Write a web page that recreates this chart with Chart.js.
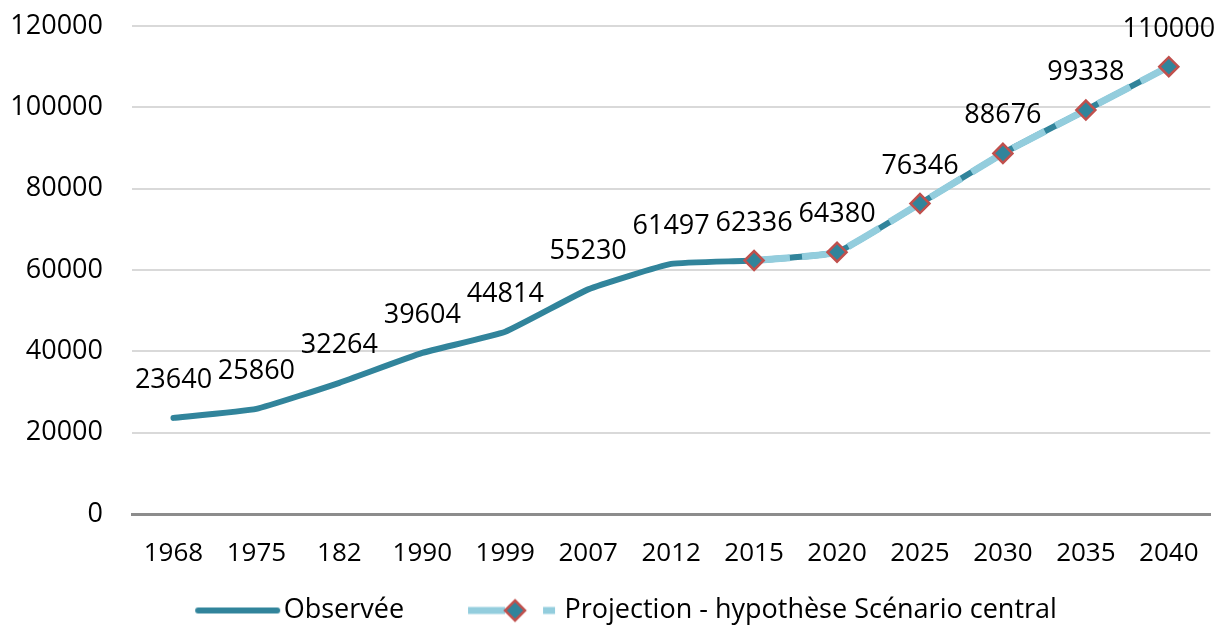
<!DOCTYPE html>
<html lang="fr">
<head>
<meta charset="utf-8">
<title>Population observée et projection</title>
<script src="https://cdn.jsdelivr.net/npm/chart.js@4/dist/chart.umd.min.js"></script>
<style>
    html, body { margin: 0; padding: 0; background: #fff; }
    #wrap { width: 1223px; height: 626px; }
</style>
</head>
<body>
<div id="wrap"><canvas id="chart" width="1223" height="626"></canvas></div>
<script>
// années (le "182" est tel quel sur l'original)
const annees = ['1968', '1975', '182', '1990', '1999', '2007', '2012', '2015', '2020', '2025', '2030', '2035', '2040'];
// série observée (continue sous la projection)
const observee = [23640, 25860, 32264, 39604, 44814, 55230, 61497, 62336, 64380, 76346, 88676, 99338, 110000];
// projection - scénario central, à partir de 2015
const projection = [null, null, null, null, null, null, null, 62336, 64380, 76346, 88676, 99338, 110000];
const yMin = 0;
const yMax = 120000;
const yPas = 20000;

const FONT = "'Open Sans', 'DejaVu Sans', sans-serif";
const TEAL = '#31849B';
const BLEU_CLAIR = '#93CDDD';
const ROUGE = '#C0504D';

document.addEventListener('DOMContentLoaded', () => {
    Chart.defaults.font.family = FONT;
    Chart.defaults.color = '#000';
    buildChart();
});

// petit dessin pour la légende (trait + losange), 160 x 30
function legendSample(kind) {
    const c = document.createElement('canvas');
    c.width = 160;
    c.height = 30;
    const ctx = c.getContext('2d');
    if (kind === 'obs') {
        ctx.strokeStyle = TEAL;
        ctx.lineWidth = 6;
        ctx.lineCap = 'round';
        ctx.beginPath();
        ctx.moveTo(64, 15);
        ctx.lineTo(143, 15);
        ctx.stroke();
    } else {
        ctx.strokeStyle = BLEU_CLAIR;
        ctx.lineWidth = 7;
        ctx.beginPath();
        ctx.moveTo(53, 15);
        ctx.lineTo(90, 15);
        ctx.moveTo(128, 15);
        ctx.lineTo(140, 15);
        ctx.stroke();
        // losange
        ctx.beginPath();
        ctx.moveTo(100, 5);
        ctx.lineTo(110, 15);
        ctx.lineTo(100, 25);
        ctx.lineTo(90, 15);
        ctx.closePath();
        ctx.fillStyle = TEAL;
        ctx.fill();
        ctx.lineWidth = 2.5;
        ctx.strokeStyle = ROUGE;
        ctx.stroke();
    }
    return c;
}

// étiquettes de valeurs au-dessus des points
const valueLabels = {
    id: 'valueLabels',
    afterDatasetsDraw(chart) {
        const meta = chart.getDatasetMeta(0);
        const ctx = chart.ctx;
        ctx.save();
        ctx.font = '27px ' + FONT;
        ctx.fillStyle = '#000';
        ctx.textAlign = 'center';
        ctx.textBaseline = 'alphabetic';
        meta.data.forEach((pt, i) => {
            ctx.fillText(String(observee[i]), pt.x, pt.y - 30);
        });
        ctx.restore();
    }
};

function buildChart() {
    const ctx = document.getElementById('chart').getContext('2d');
    new Chart(ctx, {
        type: 'line',
        data: {
            labels: annees,
            datasets: [{
                label: 'Observée',
                data: observee,
                borderColor: TEAL,
                backgroundColor: TEAL,
                borderWidth: 6,
                borderCapStyle: 'round',
                borderJoinStyle: 'round',
                pointRadius: 0,
                tension: 0.12,
                order: 2
            }, {
                label: 'Projection - hypothèse Scénario central',
                data: projection,
                borderColor: BLEU_CLAIR,
                backgroundColor: TEAL,
                borderWidth: 7,
                borderDash: [36, 12],
                pointStyle: 'rectRot',
                pointRadius: 9.5,
                pointBorderWidth: 2.5,
                pointBorderColor: ROUGE,
                pointBackgroundColor: TEAL,
                tension: 0.12,
                order: 1
            }]
        },
        options: {
            responsive: false,
            animation: false,
            layout: {
                padding: { top: 26, right: 8, left: 0, bottom: -8 }
            },
            scales: {
                x: {
                    type: 'category',
                    offset: true,
                    afterFit(scale) { scale.height = 48; },
                    grid: { display: false, drawTicks: false },
                    border: { display: true, color: '#8C8C8C', width: 3 },
                    ticks: {
                        padding: 24,
                        maxRotation: 0,
                        autoSkip: false,
                        font: { size: 26 },
                        color: '#000'
                    }
                },
                y: {
                    min: yMin,
                    max: yMax,
                    afterFit(scale) {
                        scale.width = 132;
                        scale.paddingTop = 0;
                        scale.paddingBottom = 0;
                    },
                    border: { display: false },
                    grid: {
                        drawTicks: false,
                        color: c => c.tick && c.tick.value === 0 ? '#8C8C8C' : '#D9D9D9',
                        lineWidth: c => c.tick && c.tick.value === 0 ? 3 : 2
                    },
                    ticks: {
                        stepSize: yPas,
                        padding: 29,
                        font: { size: 27 },
                        color: '#000',
                        callback: value => String(value)
                    }
                }
            },
            plugins: {
                legend: {
                    position: 'bottom',
                    align: 'center',
                    labels: {
                        usePointStyle: true,
                        pointStyleWidth: 112,
                        padding: 35,
                        font: { size: 27 },
                        color: '#000',
                        generateLabels: () => [
                            { text: 'Observée', pointStyle: legendSample('obs'), datasetIndex: 0, hidden: false, lineWidth: 0 },
                            { text: 'Projection - hypothèse Scénario central', pointStyle: legendSample('proj'), datasetIndex: 1, hidden: false, lineWidth: 0 }
                        ]
                    }
                },
                tooltip: { enabled: false }
            }
        },
        plugins: [valueLabels]
    });
}
</script>
</body>
</html>
